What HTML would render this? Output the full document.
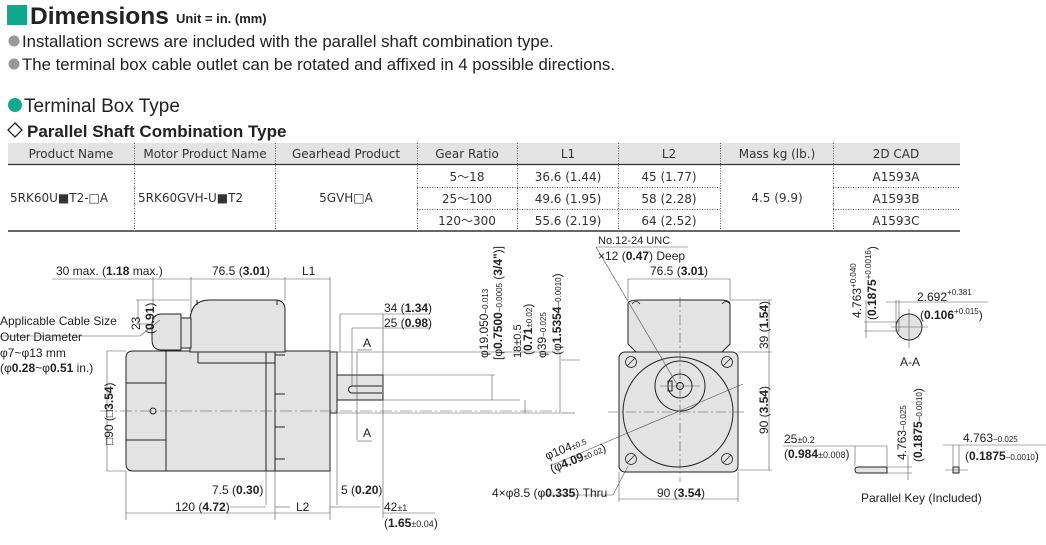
<!DOCTYPE html>
<html><head><meta charset="utf-8"><style>
body{margin:0;background:#fff;width:1046px;height:545px;overflow:hidden;font-family:"Liberation Sans",sans-serif}
svg{position:absolute;left:0;top:0}
.t{font-family:"Liberation Sans",sans-serif}
.n{font-family:"Liberation Sans",sans-serif;font-size:11px;fill:#222}
.d{font-family:"Liberation Sans",sans-serif;font-size:12px;fill:#222}
.tb{font-family:"DejaVu Sans",sans-serif;font-size:12px;fill:#333}
</style></head><body>
<svg width="1046" height="545" viewBox="0 0 1046 545">
<!-- header -->
<rect x="7" y="5" width="20" height="20" fill="#12a88a"/>
<text x="30" y="24" class="t" font-size="24.5" font-weight="bold" fill="#222">Dimensions</text>
<text x="176" y="23" class="t" font-size="13" font-weight="bold" fill="#222">Unit = in. (mm)</text>
<circle cx="14" cy="41" r="5.5" fill="#999"/>
<text x="22" y="47" class="t" font-size="16.8" fill="#222">Installation screws are included with the parallel shaft combination type.</text>
<circle cx="14" cy="64" r="5.5" fill="#999"/>
<text x="22" y="70" class="t" font-size="16.8" fill="#222">The terminal box cable outlet can be rotated and affixed in 4 possible directions.</text>
<circle cx="15" cy="105" r="7" fill="#12a88a"/>
<text x="24" y="112" class="t" font-size="19" fill="#222">Terminal Box Type</text>
<path d="M15 123 L22 130 L15 137 L8 130 Z" fill="none" stroke="#222" stroke-width="1.3"/>
<text x="27" y="137" class="t" font-size="17" font-weight="bold" fill="#222">Parallel Shaft Combination Type</text>
<!-- table -->
<rect x="8" y="143" width="952" height="21" fill="#e3e3e3"/>
<line x1="8" y1="164.5" x2="960" y2="164.5" stroke="#333" stroke-width="1.2"/>
<line x1="8" y1="231" x2="960" y2="231" stroke="#333" stroke-width="1.5"/>
<g stroke="#555" stroke-dasharray="1,1.5" stroke-width="1">
<line x1="134.5" y1="143" x2="134.5" y2="231"/><line x1="275.5" y1="143" x2="275.5" y2="231"/>
<line x1="417.5" y1="143" x2="417.5" y2="231"/><line x1="517.5" y1="143" x2="517.5" y2="231"/>
<line x1="618.5" y1="143" x2="618.5" y2="231"/><line x1="720.5" y1="143" x2="720.5" y2="231"/>
<line x1="833.5" y1="143" x2="833.5" y2="231"/>
<line x1="417" y1="187.5" x2="720" y2="187.5"/><line x1="417" y1="209.5" x2="720" y2="209.5"/>
<line x1="833" y1="187.5" x2="960" y2="187.5"/><line x1="833" y1="209.5" x2="960" y2="209.5"/>
</g>
<g class="tb" text-anchor="middle">
<text x="71" y="158">Product Name</text><text x="205" y="158">Motor Product Name</text>
<text x="346" y="158">Gearhead Product</text><text x="467" y="158">Gear Ratio</text>
<text x="568" y="158">L1</text><text x="669" y="158">L2</text>
<text x="777" y="158">Mass kg (lb.)</text><text x="896" y="158">2D CAD</text>
<text x="467" y="181">5～18</text><text x="467" y="203">25～100</text><text x="467" y="225">120～300</text>
<text x="568" y="181">36.6 (1.44)</text><text x="568" y="203">49.6 (1.95)</text><text x="568" y="225">55.6 (2.19)</text>
<text x="669" y="181">45 (1.77)</text><text x="669" y="203">58 (2.28)</text><text x="669" y="225">64 (2.52)</text>
<text x="777" y="202">4.5 (9.9)</text>
<text x="896" y="181">A1593A</text><text x="896" y="203">A1593B</text><text x="896" y="225">A1593C</text>
<text x="346" y="202">5GVH□A</text>
</g>
<text x="10" y="202" class="tb">5RK60U■T2-□A</text>
<text x="138" y="202" class="tb">5RK60GVH-U■T2</text>

<!-- side view -->
<g stroke="#222" stroke-width="1" fill="#e3e3e3">
<path d="M133 351 H166 V471 H133 Q126 471 126 464 V358 Q126 351 133 351Z"/>
<rect x="166" y="351" width="100" height="120"/>
<rect x="266" y="351" width="9" height="120"/>
<rect x="275" y="351" width="55" height="120"/>
<rect x="330" y="352" width="7" height="61"/>
<rect x="337" y="375" width="46" height="25"/>
<path d="M190 322 Q190 300 210 300 H275 Q285 300 285 310 V352 H190 Z"/>
<rect x="181" y="318" width="10" height="30"/>
<path d="M152 325 Q152 314 162 314 H181 V350 H162 Q152 350 152 340 Z"/>
</g>
<g stroke="#222" stroke-width="1" fill="none">
<line x1="126" y1="383" x2="166" y2="383"/><line x1="126" y1="440" x2="166" y2="440"/>
<line x1="198" y1="352" x2="198" y2="363"/><line x1="198" y1="363" x2="275" y2="363"/>
<line x1="275" y1="355" x2="285" y2="355"/><line x1="275" y1="394" x2="285" y2="394"/><line x1="275" y1="427" x2="285" y2="427"/><line x1="275" y1="459" x2="285" y2="459"/>
<path d="M352 386 H382 M352 393 H382 M352 386 A3.5 3.5 0 0 0 352 393"/>
<circle cx="153" cy="411" r="3"/>
<line x1="197" y1="305" x2="197" y2="300"/><line x1="277" y1="305" x2="277" y2="300"/>
</g>
<g stroke="#555" stroke-width="0.6" fill="none">
<line x1="100" y1="411" x2="560" y2="411" stroke-dasharray="12,3,2,3"/>
<line x1="52" y1="279" x2="330" y2="279"/>
<line x1="153" y1="277" x2="153" y2="312"/><line x1="191" y1="277" x2="191" y2="312"/>
<line x1="285" y1="277" x2="285" y2="300"/><line x1="330" y1="277" x2="330" y2="352"/>
<line x1="107" y1="351" x2="126" y2="351"/><line x1="107" y1="471" x2="126" y2="471"/><line x1="107" y1="351" x2="107" y2="471"/>
<line x1="136" y1="300" x2="190" y2="300"/><line x1="136" y1="324" x2="152" y2="324"/><line x1="138" y1="300" x2="138" y2="324"/>
<line x1="0" y1="336" x2="140" y2="336"/><line x1="140" y1="336" x2="160" y2="320"/>
<line x1="126" y1="471" x2="126" y2="520"/><line x1="275" y1="471" x2="275" y2="520"/><line x1="266" y1="471" x2="266" y2="505"/>
<line x1="330" y1="471" x2="330" y2="520"/><line x1="337" y1="413" x2="337" y2="505"/><line x1="383" y1="400" x2="383" y2="518"/>
<line x1="126" y1="513" x2="275" y2="513"/><line x1="275" y1="513" x2="330" y2="513"/><line x1="383" y1="513" x2="435" y2="513"/>
<line x1="230" y1="507" x2="266" y2="507"/><line x1="275" y1="507" x2="290" y2="507"/>
<line x1="330" y1="507" x2="337" y2="507"/><line x1="337" y1="507" x2="380" y2="507"/>
<line x1="340" y1="314" x2="430" y2="314"/><line x1="340" y1="314" x2="340" y2="352"/>
<line x1="352" y1="328" x2="430" y2="328"/><line x1="352" y1="328" x2="352" y2="386"/>
<line x1="383" y1="314" x2="383" y2="375"/>
<line x1="357" y1="352" x2="357" y2="440"/><line x1="357" y1="350" x2="372" y2="350"/><line x1="357" y1="441" x2="372" y2="441"/>
<line x1="337" y1="352" x2="560" y2="352"/><line x1="383" y1="375" x2="495" y2="375"/><line x1="383" y1="400" x2="520" y2="400"/>
<line x1="337" y1="413" x2="560" y2="413"/>
<line x1="492" y1="375" x2="492" y2="400"/><line x1="525" y1="400" x2="525" y2="413"/><line x1="560" y1="352" x2="560" y2="413"/>
<line x1="561" y1="360" x2="580" y2="360"/><line x1="561" y1="413" x2="575" y2="413"/>
</g>
<g class="d">
<text x="56" y="275">30 max. (<tspan font-weight="bold">1.18</tspan> max.)</text>
<text x="212" y="275">76.5 (<tspan font-weight="bold">3.01</tspan>)</text>
<text x="302" y="275">L1</text>
<text x="0" y="325">Applicable Cable Size</text>
<text x="0" y="341">Outer Diameter</text>
<text x="0" y="357">φ7~φ13 mm</text>
<text x="0" y="372">(φ<tspan font-weight="bold">0.28</tspan>~φ<tspan font-weight="bold">0.51</tspan> in.)</text>
<text x="384" y="312">34 (<tspan font-weight="bold">1.34</tspan>)</text>
<text x="384" y="327">25 (<tspan font-weight="bold">0.98</tspan>)</text>
<text x="363" y="347">A</text><text x="363" y="437">A</text>
<text x="212" y="494">7.5 (<tspan font-weight="bold">0.30</tspan>)</text>
<text x="175" y="511">120 (<tspan font-weight="bold">4.72</tspan>)</text>
<text x="296" y="511">L2</text>
<text x="341" y="494">5 (<tspan font-weight="bold">0.20</tspan>)</text>
<text x="384" y="511">42<tspan font-size="9">±1</tspan></text>
<text x="384" y="527">(<tspan font-weight="bold">1.65</tspan><tspan font-size="9">±0.04</tspan>)</text>
<text transform="translate(113,445) rotate(-90)">□90 (□<tspan font-weight="bold">3.54</tspan>)</text>
<text transform="translate(140,330) rotate(-90)">23</text>
<text transform="translate(154,334) rotate(-90)">(<tspan font-weight="bold">0.91</tspan>)</text>
<text transform="translate(488,358) rotate(-90)">φ19.050<tspan font-size="8">−0.013</tspan></text>
<text transform="translate(502,360) rotate(-90)">[φ<tspan font-weight="bold">0.7500</tspan><tspan font-size="8">−0.0005</tspan> (<tspan font-weight="bold">3/4"</tspan>)]</text>
<text transform="translate(521,358) rotate(-90)" font-size="11">18±0.5</text>
<text transform="translate(532,355) rotate(-90)">(<tspan font-weight="bold">0.71</tspan><tspan font-size="8">±0.02</tspan>)</text>
<text transform="translate(546,358) rotate(-90)">φ39<tspan font-size="8">−0.025</tspan></text>
<text transform="translate(561,355) rotate(-90)">(φ<tspan font-weight="bold">1.5354</tspan><tspan font-size="8">−0.0010</tspan>)</text>
</g>

<!-- front view -->
<g stroke="#222" stroke-width="1" fill="#e3e3e3">
<path d="M636 352 L628 344 V304 Q628 300 640 300 H720 Q730 300 730 304 V344 L722 352Z"/>
<rect x="619" y="352" width="119" height="120" rx="6"/>
<circle cx="678" cy="412" r="55"/>
<circle cx="680" cy="386" r="25"/>
<circle cx="680" cy="386" r="12"/>
<circle cx="680" cy="386" r="3.5" fill="none"/>
<rect x="668" y="381" width="4" height="10" fill="none"/>
</g>
<g stroke="#222" stroke-width="0.8" fill="none">
<circle cx="631" cy="362" r="5.5"/><circle cx="727" cy="362" r="5.5"/><circle cx="631" cy="459" r="5.5"/><circle cx="727" cy="459" r="5.5"/>
<line x1="627" y1="366" x2="635" y2="358"/><line x1="723" y1="366" x2="731" y2="358"/><line x1="627" y1="463" x2="635" y2="455"/><line x1="723" y1="463" x2="731" y2="455"/>
<path d="M632 304 q4 -5 8 0 M722 304 q4 -5 8 0"/>
</g>
<g stroke="#555" stroke-width="0.6" fill="none">
<line x1="680" y1="297" x2="680" y2="482" stroke-dasharray="10,3,2,3"/>
<line x1="608" y1="412" x2="746" y2="412" stroke-dasharray="10,3,2,3"/>
<line x1="660" y1="386" x2="700" y2="386"/>
<line x1="596" y1="247" x2="688" y2="247"/><line x1="596" y1="247" x2="678" y2="386"/>
<line x1="628" y1="279" x2="730" y2="279"/><line x1="628" y1="279" x2="628" y2="300"/><line x1="730" y1="279" x2="730" y2="300"/>
<line x1="730" y1="300" x2="772" y2="300"/><line x1="738" y1="352" x2="772" y2="352"/><line x1="738" y1="470" x2="772" y2="470"/><line x1="769" y1="300" x2="769" y2="470"/>
<line x1="619" y1="472" x2="619" y2="502"/><line x1="738" y1="472" x2="738" y2="502"/><line x1="619" y1="499" x2="738" y2="499"/>
<line x1="550" y1="466" x2="743" y2="384"/>
<line x1="613" y1="495" x2="628" y2="466"/><line x1="540" y1="495" x2="613" y2="495"/>
</g>
<g class="d">
<text x="598" y="244" font-size="11">No.12-24 UNC</text>
<text x="598" y="260">×12 (<tspan font-weight="bold">0.47</tspan>) Deep</text>
<text x="650" y="275">76.5 (<tspan font-weight="bold">3.01</tspan>)</text>
<text x="657" y="497">90 (<tspan font-weight="bold">3.54</tspan>)</text>
<text x="492" y="497">4×φ8.5 (φ<tspan font-weight="bold">0.335</tspan>) Thru</text>
<text transform="translate(547,460) rotate(-22)">φ104<tspan font-size="8">±0.5</tspan></text>
<text transform="translate(552,473) rotate(-22)">(φ<tspan font-weight="bold">4.09</tspan><tspan font-size="8">±0.02</tspan>)</text>
<text transform="translate(768,349) rotate(-90)">39 (<tspan font-weight="bold">1.54</tspan>)</text>
<text transform="translate(768,434) rotate(-90)">90 (<tspan font-weight="bold">3.54</tspan>)</text>
</g>

<!-- A-A -->
<g stroke="#222" stroke-width="1" fill="#e3e3e3"><circle cx="909" cy="327" r="13"/></g>
<g stroke="#555" stroke-width="0.6" fill="none">
<line x1="891" y1="327" x2="928" y2="327"/><line x1="909" y1="309" x2="909" y2="348"/>
<rect x="896" y="322" width="3" height="9"/>
<line x1="864" y1="322" x2="896" y2="322"/><line x1="864" y1="331" x2="896" y2="331"/><line x1="866" y1="300" x2="866" y2="338"/>
<line x1="886" y1="302" x2="988" y2="302"/><line x1="896" y1="300" x2="896" y2="322"/><line x1="899" y1="300" x2="899" y2="322"/>
</g>
<g class="d">
<text x="917" y="301">2.692<tspan font-size="8" dy="-6">+0.381</tspan></text>
<text x="920" y="319">(<tspan font-weight="bold">0.106</tspan><tspan font-size="8" dy="-5">+0.015</tspan><tspan dy="5">)</tspan></text>
<text x="900" y="366">A-A</text>
<text transform="translate(861,318) rotate(-90)">4.763<tspan font-size="8" dy="-5">+0.040</tspan></text>
<text transform="translate(876,320) rotate(-90)">(<tspan font-weight="bold">0.1875</tspan><tspan font-size="8" dy="-5">+0.0016</tspan><tspan dy="5">)</tspan></text>
</g>

<!-- parallel key -->
<g stroke="#222" stroke-width="1" fill="#e3e3e3">
<path d="M858 467 H887 V473 H858 Q855 473 855 470 Q855 467 858 467Z"/>
<rect x="953" y="467" width="6" height="6"/>
</g>
<g stroke="#555" stroke-width="0.6" fill="none">
<line x1="855" y1="446" x2="855" y2="466"/><line x1="887" y1="446" x2="887" y2="466"/><line x1="783" y1="446" x2="887" y2="446"/>
<line x1="887" y1="467" x2="912" y2="467"/><line x1="887" y1="473" x2="912" y2="473"/><line x1="908" y1="455" x2="908" y2="480"/>
<line x1="953" y1="445" x2="953" y2="466"/><line x1="959" y1="445" x2="959" y2="466"/><line x1="943" y1="445" x2="1046" y2="445"/>
<line x1="945" y1="470" x2="968" y2="470"/>
</g>
<g class="d">
<text x="784" y="443">25<tspan font-size="9">±0.2</tspan></text>
<text x="784" y="458">(<tspan font-weight="bold">0.984</tspan><tspan font-size="9">±0.008</tspan>)</text>
<text x="963" y="442">4.763<tspan font-size="8">−0.025</tspan></text>
<text x="965" y="460">(<tspan font-weight="bold">0.1875</tspan><tspan font-size="8">−0.0010</tspan>)</text>
<text x="861" y="502">Parallel Key (Included)</text>
<text transform="translate(906,460) rotate(-90)">4.763<tspan font-size="8">−0.025</tspan></text>
<text transform="translate(922,462) rotate(-90)">(<tspan font-weight="bold">0.1875</tspan><tspan font-size="8">−0.0010</tspan>)</text>
</g>
</svg>
</body></html>
